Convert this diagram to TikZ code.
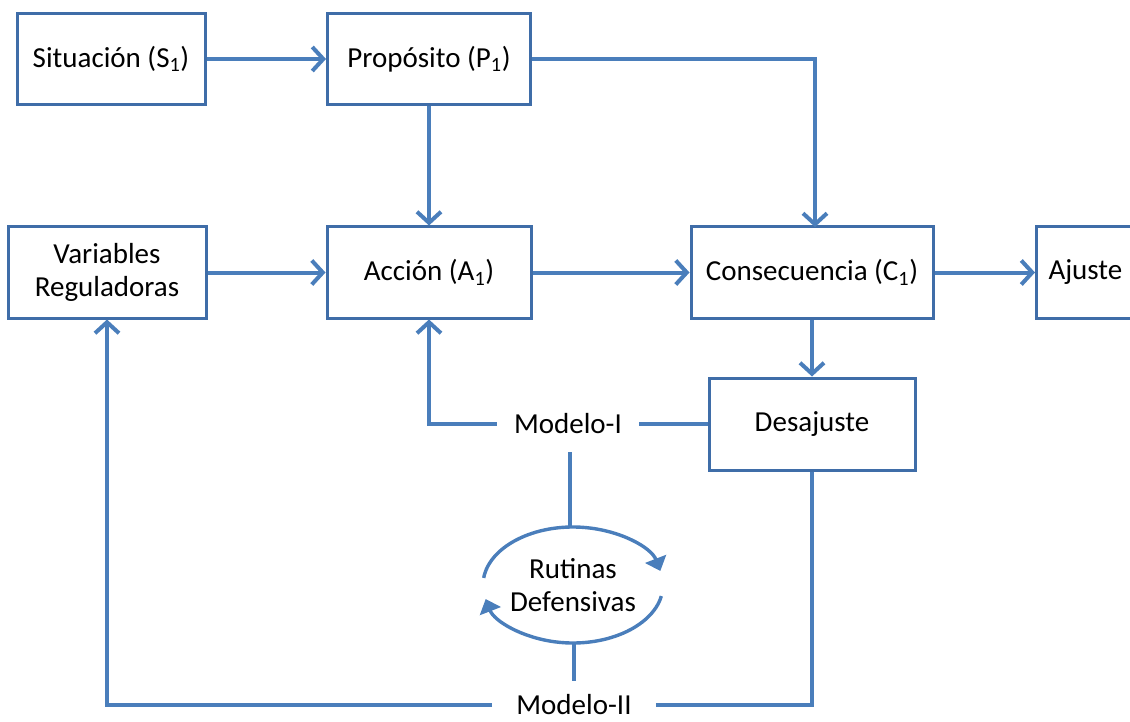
\documentclass[tikz,border=0pt]{standalone}
\usepackage{fontspec}
\setmainfont{Carlito}
\usetikzlibrary{arrows.meta,shapes.geometric}
\definecolor{lblue}{HTML}{4A7EBB}
\definecolor{bblue}{HTML}{3F6DA8}
\tikzset{
  txt/.style={font=\fontsize{29}{33}\selectfont},
  box/.style={draw=bblue, line width=3pt, fill=white, minimum height=91pt, inner sep=0pt, align=center, txt},
  lbl/.style={inner xsep=17pt, inner ysep=10pt, txt},
  conn/.style={draw=lblue, line width=4pt},
  arr/.style={conn, -{Straight Barb[length=11pt, width=24pt, line width=4pt]}},
  tri/.style={draw=lblue, line width=3.4pt, -{Triangle[length=13pt, width=22pt]}}
}
\begin{document}
\begin{tikzpicture}[x=1pt,y=-1pt]
\useasboundingbox (0,0) rectangle (1130,722);
\clip (0,0) rectangle (1130,722);
\node[box, minimum width=188pt] (sit) at (111,59) {Situación (S\textsubscript{1})};
\node[box, minimum width=203pt] (pro) at (429,59) {Propósito (P\textsubscript{1})};
\node[box, minimum width=198pt] (var) at (107,272.5) {Variables\\Reguladoras};
\node[box, minimum width=204pt] (acc) at (429,272.5) {Acción (A\textsubscript{1})};
\node[box, minimum width=242pt] (con) at (812,272.5) {Consecuencia (C\textsubscript{1})};
\node[box, minimum width=130pt, anchor=west, text width=112pt, align=left] (aju) at (1035,272.5) {\hspace*{3pt}Ajuste};
\node[box, minimum width=206pt, minimum height=92pt] (des) at (812,424) {Desajuste};
\node[lbl] (m1) at (568,424) {Modelo-I};
\node[lbl, inner xsep=24pt] (m2) at (574,705) {Modelo-II};
\node[ellipse, minimum width=180pt, minimum height=116pt, inner sep=0pt, align=center, txt] (rut) at (573,585) {Rutinas\\Defensivas};

\draw[arr] (sit.east) -- (pro.west);
\draw[arr] (pro.east) -| (815,59) -- (815,227);
\draw[arr] (pro.south) -- (acc.north);
\draw[arr] (var.east) -- (acc.west);
\draw[arr] (acc.east) -- (con.west);
\draw[arr] (con.east) -- (aju.west);
\draw[arr] (con.south) -- (des.north);
\draw[arr] (m1.west) -| (acc.south);
\draw[conn] (des.west) -- (m1.east);
\draw[conn] (570,452) -- (570,527);
\draw[conn] (574,643) -- (574,681);
\draw[arr] (m2.west) -| (var.south);
\draw[conn] (m2.east) -| (des.south);
% cycle arcs
\draw[tri] (rut.center) ++(-173:90 and 58) arc[start angle=-173, end angle=-14, x radius=90, y radius=58];
\draw[tri] (rut.center) ++(11:90 and 58) arc[start angle=11, end angle=166, x radius=90, y radius=58];
\end{tikzpicture}
\end{document}
